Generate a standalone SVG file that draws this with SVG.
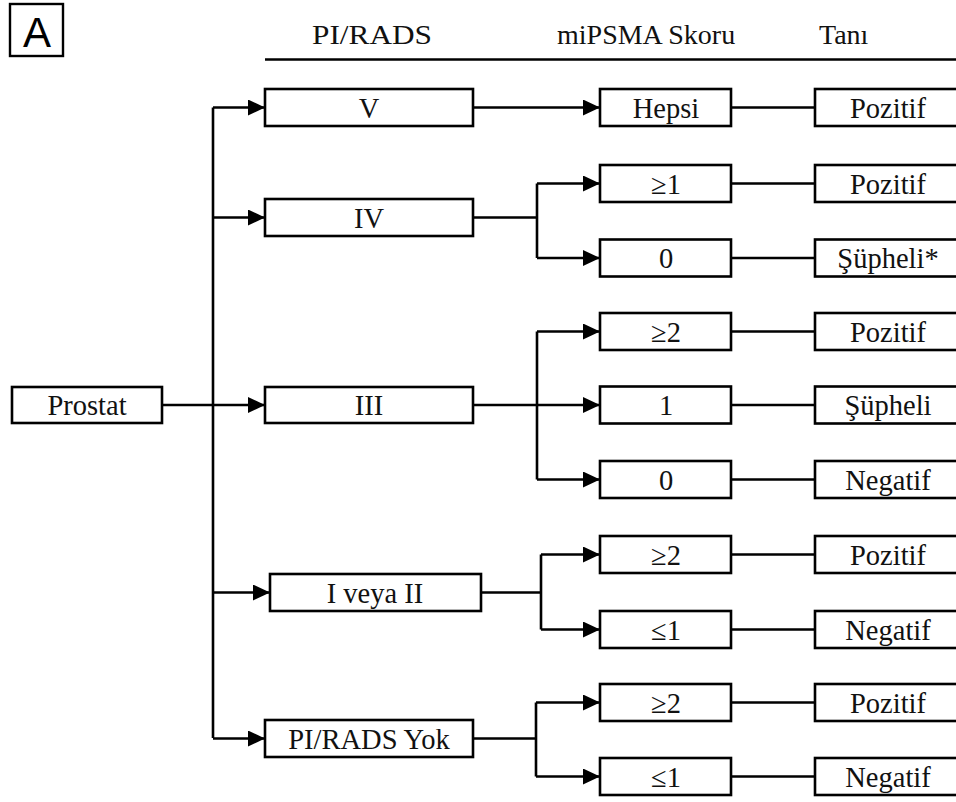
<svg xmlns="http://www.w3.org/2000/svg" width="956" height="802" viewBox="0 0 956 802">
<defs>
<marker id="arr" markerUnits="userSpaceOnUse" markerWidth="18" markerHeight="16" refX="17" refY="8" orient="auto">
<path d="M0,0 L17,8 L0,16 Z" fill="#000"/>
</marker>
<style>
.box{fill:#fff;stroke:#000;stroke-width:2.6}
.t{font-family:"Liberation Serif","Times New Roman",serif;font-size:28.5px;fill:#111;text-anchor:middle}
.h{font-family:"Liberation Serif","Times New Roman",serif;font-size:28px;fill:#111}
.ln{fill:none;stroke:#000;stroke-width:2.6}
.ar{fill:none;stroke:#000;stroke-width:2.6;marker-end:url(#arr)}
</style>
</defs>
<rect width="956" height="802" fill="#fff"/>
<g id="label">
<rect x="10" y="4" width="53" height="52" fill="#fff" stroke="#000" stroke-width="2.4"/>
<text x="37" y="47" font-family="Liberation Sans, Arial, sans-serif" font-size="42" text-anchor="middle" fill="#000">A</text>
</g>
<g id="headers">
<text class="h" x="312" y="44" textLength="120" lengthAdjust="spacingAndGlyphs">PI/RADS</text>
<text class="h" x="557" y="44">miPSMA Skoru</text>
<text class="h" x="819" y="44">Tanı</text>
<line x1="265" y1="59.5" x2="956" y2="59.5" stroke="#000" stroke-width="2.4"/>
</g>
<g id="connectors">
<path class="ln" d="M162,405 H213"/>
<path class="ln" d="M213,107.5 V738"/>
<path class="ar" d="M213,107.5 H265"/>
<path class="ar" d="M213,217.5 H265"/>
<path class="ar" d="M213,405 H265"/>
<path class="ar" d="M213,592.5 H270"/>
<path class="ar" d="M213,738.5 H265"/>
<path class="ar" d="M473,107.5 H600"/>
<path class="ln" d="M473,217.5 H537 M537,183.5 V258"/>
<path class="ar" d="M537,183.5 H600"/>
<path class="ar" d="M537,258 H600"/>
<path class="ln" d="M473,405 H537 M537,331.5 V479.5"/>
<path class="ar" d="M537,331.5 H600"/>
<path class="ar" d="M537,405 H600"/>
<path class="ar" d="M537,479.5 H600"/>
<path class="ln" d="M481,592.5 H541 M541,554.5 V629.5"/>
<path class="ar" d="M541,554.5 H600"/>
<path class="ar" d="M541,629.5 H600"/>
<path class="ln" d="M473,738.5 H536 M536,702.5 V776.5"/>
<path class="ar" d="M536,702.5 H600"/>
<path class="ar" d="M536,776.5 H600"/>
<path class="ln" d="M731,107.5 H815 M731,183.5 H815 M731,258 H815 M731,331.5 H815 M731,405 H815 M731,479.5 H815 M731,554.5 H815 M731,629.5 H815 M731,702.5 H815 M731,776.5 H815"/>
</g>
<g id="prostat"><rect class="box" x="12" y="387" width="150" height="36"/><text class="t" x="87" y="415">Prostat</text></g>
<g id="pirads-v"><rect class="box" x="265" y="89" width="208" height="37"/><text class="t" x="369" y="117.5">V</text></g>
<g id="pirads-iv"><rect class="box" x="265" y="199" width="208" height="37"/><text class="t" x="369" y="227.5">IV</text></g>
<g id="pirads-iii"><rect class="box" x="265" y="387" width="208" height="36"/><text class="t" x="369" y="415">III</text></g>
<g id="pirads-i-ii"><rect class="box" x="270" y="574" width="211" height="37"/><text class="t" x="375" y="602.5">I veya II</text></g>
<g id="pirads-yok"><rect class="box" x="265" y="720" width="208" height="37"/><text class="t" x="369" y="748.5">PI/RADS Yok</text></g>
<g id="m-hepsi"><rect class="box" x="600" y="89" width="131" height="37"/><text class="t" x="666" y="117.5">Hepsi</text></g>
<g id="m-iv-1"><rect class="box" x="600" y="165" width="131" height="37"/><text class="t" x="666" y="193.5">≥1</text></g>
<g id="m-iv-0"><rect class="box" x="600" y="239.5" width="131" height="37"/><text class="t" x="666" y="268">0</text></g>
<g id="m-iii-2"><rect class="box" x="600" y="313" width="131" height="37"/><text class="t" x="666" y="341.5">≥2</text></g>
<g id="m-iii-1"><rect class="box" x="600" y="386.5" width="131" height="37"/><text class="t" x="666" y="415">1</text></g>
<g id="m-iii-0"><rect class="box" x="600" y="461" width="131" height="37"/><text class="t" x="666" y="489.5">0</text></g>
<g id="m-i-2"><rect class="box" x="600" y="536" width="131" height="37"/><text class="t" x="666" y="564.5">≥2</text></g>
<g id="m-i-1"><rect class="box" x="600" y="611" width="131" height="37"/><text class="t" x="666" y="639.5">≤1</text></g>
<g id="m-y-2"><rect class="box" x="600" y="684" width="131" height="37"/><text class="t" x="666" y="712.5">≥2</text></g>
<g id="m-y-1"><rect class="box" x="600" y="758" width="131" height="37"/><text class="t" x="666" y="786.5">≤1</text></g>
<g id="d-1"><rect class="box" x="815" y="89" width="150" height="37"/><text class="t" x="888" y="117.5">Pozitif</text></g>
<g id="d-2"><rect class="box" x="815" y="165" width="150" height="37"/><text class="t" x="888" y="193.5">Pozitif</text></g>
<g id="d-3"><rect class="box" x="815" y="239.5" width="150" height="37"/><text class="t" x="888" y="268">Şüpheli*</text></g>
<g id="d-4"><rect class="box" x="815" y="313" width="150" height="37"/><text class="t" x="888" y="341.5">Pozitif</text></g>
<g id="d-5"><rect class="box" x="815" y="386.5" width="150" height="37"/><text class="t" x="888" y="415">Şüpheli</text></g>
<g id="d-6"><rect class="box" x="815" y="461" width="150" height="37"/><text class="t" x="888" y="489.5">Negatif</text></g>
<g id="d-7"><rect class="box" x="815" y="536" width="150" height="37"/><text class="t" x="888" y="564.5">Pozitif</text></g>
<g id="d-8"><rect class="box" x="815" y="611" width="150" height="37"/><text class="t" x="888" y="639.5">Negatif</text></g>
<g id="d-9"><rect class="box" x="815" y="684" width="150" height="37"/><text class="t" x="888" y="712.5">Pozitif</text></g>
<g id="d-10"><rect class="box" x="815" y="758" width="150" height="37"/><text class="t" x="888" y="786.5">Negatif</text></g>
</svg>
